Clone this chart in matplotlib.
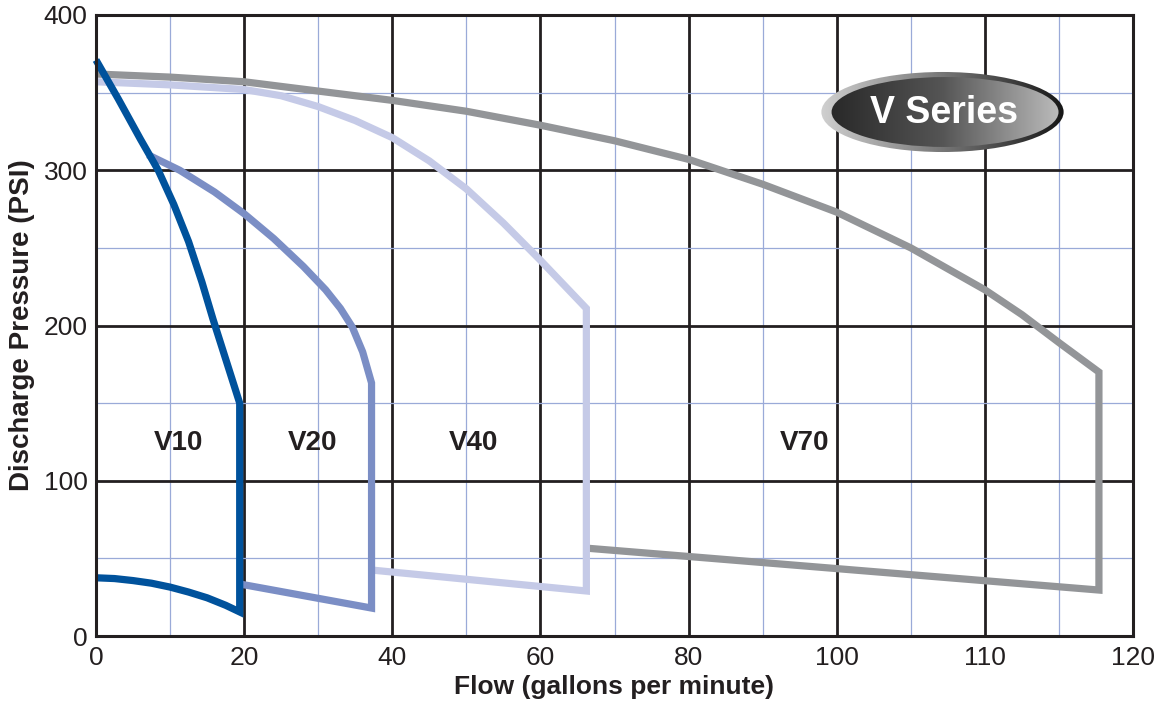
import numpy as np
import matplotlib
matplotlib.use("Agg")
import matplotlib.pyplot as plt
from matplotlib.patches import Ellipse
from matplotlib.colors import LinearSegmentedColormap

plt.rcParams["font.family"] = ["Liberation Sans", "DejaVu Sans"]

# x runs on an evenly spaced grid; the last two major ticks are labelled 110 and 120
x_tick_pos = [0, 20, 40, 60, 80, 100, 120, 140]
x_tick_labels = ["0", "20", "40", "60", "80", "100", "110", "120"]
y_ticks = [0, 100, 200, 300, 400]

series = ["V70", "V40", "V20", "V10"]   # drawing order, V10 on top
colors = {"V10": "#00529c", "V20": "#7b8ec5", "V40": "#c5cae7", "V70": "#939598"}

upper_x = {
    "V10": [0, 3, 6, 8.4, 10.5, 12.5, 14.3, 15.8, 17, 18.2, 19.4],
    "V20": [7, 11.3, 16, 20, 24, 28, 31, 33, 34.6, 36, 37.2],
    "V40": [0, 10, 20, 25, 30, 35, 40, 45, 50, 55, 60, 63, 66.2],
    "V70": [0, 10, 20, 30, 40, 50, 60, 70, 80, 90, 100, 110, 120, 125, 130, 135.4],
}
upper_y = {
    "V10": [371, 346, 320, 300, 278, 254, 228, 204, 186, 168, 150],
    "V20": [310, 300, 286, 272, 256, 238, 223, 211, 199, 183, 163],
    "V40": [357, 355, 352, 348, 341, 332, 321, 306, 288, 266, 242, 227, 211],
    "V70": [362, 360, 357, 351, 345, 338, 329, 319, 307, 291, 273, 250, 223, 207, 189, 170],
}
lower_x = {
    "V10": [0, 2.5, 5, 7.5, 10, 12.5, 15, 17.5, 19.4],
    "V20": [19.4, 37.2],
    "V40": [37.2, 66.2],
    "V70": [66.2, 135.4],
}
lower_y = {
    "V10": [37.5, 37, 35.7, 34, 31.5, 28.3, 24.6, 19.8, 15.5],
    "V20": [33.5, 18],
    "V40": [42.5, 29],
    "V70": [56.6, 29.6],
}
label_x = {"V10": 11.2, "V20": 29.3, "V40": 50.9, "V70": 95.7}
label_y = 124

fig = plt.figure(figsize=(11.61, 7.04), dpi=100)
ax = fig.add_axes([96 / 1161, 1 - 636 / 704, (1133 - 96) / 1161, (636 - 15) / 704])

ax.set_xlim(0, 140)
ax.set_ylim(0, 400)
ax.set_xticks(x_tick_pos)
ax.set_xticklabels(x_tick_labels)
ax.set_xticks(np.arange(10, 140, 20), minor=True)
ax.set_yticks(y_ticks)
ax.set_yticks([50, 150, 250, 350], minor=True)
ax.tick_params(which="both", length=0, labelsize=19, colors="#231f20")
ax.tick_params(axis="x", pad=7)
ax.tick_params(axis="y", pad=6)
ax.set_axisbelow(True)
ax.grid(which="major", color="#231f20", lw=2.0)
ax.grid(which="minor", color="#9aaad8", lw=0.9)
for sp in ax.spines.values():
    sp.set_color("#231f20")
    sp.set_linewidth(2.2)

for name in series:
    # lower curve left-to-right, up the vertical edge, then upper curve back
    xs = lower_x[name] + upper_x[name][::-1]
    ys = lower_y[name] + upper_y[name][::-1]
    ax.plot(xs, ys, color=colors[name], lw=5.2, solid_joinstyle="miter",
            solid_capstyle="butt", clip_on=False)
    ax.text(label_x[name], label_y, name, ha="center", va="center",
            fontsize=20, fontweight="bold", color="#231f20")

ax.set_xlabel("Flow (gallons per minute)", fontsize=19, fontweight="bold",
              color="#231f20", labelpad=4)
ax.set_ylabel("Discharge Pressure (PSI)", fontsize=20, fontweight="bold",
              color="#231f20", labelpad=6)

# "V Series" badge
bax = fig.add_axes([815 / 1161, 1 - 158 / 704, 255 / 1161, 92 / 704])
bax.set_xlim(0, 1)
bax.set_ylim(0, 1)
bax.axis("off")
grad = np.linspace(0, 1, 256).reshape(1, -1)
outer = Ellipse((0.5, 0.5), 0.95, 0.87, facecolor="none", edgecolor="none")
inner = Ellipse((0.51, 0.5), 0.89, 0.76, facecolor="none", edgecolor="none")
bax.add_patch(outer)
bax.add_patch(inner)
cmap_outer = LinearSegmentedColormap.from_list("o", ["#d4d4d4", "#777777", "#111111"])
cmap_inner = LinearSegmentedColormap.from_list("i", ["#222222", "#555555", "#c4c4c4"])
im1 = bax.imshow(grad, extent=[0, 1, 0, 1], aspect="auto", cmap=cmap_outer)
im1.set_clip_path(outer)
im2 = bax.imshow(grad, extent=[0, 1, 0, 1], aspect="auto", cmap=cmap_inner)
im2.set_clip_path(inner)
bax.text(0.506, 0.49, "V Series", ha="center", va="center", fontsize=27,
         fontweight="bold", color="white")

fig.savefig("out.png", dpi=100)
